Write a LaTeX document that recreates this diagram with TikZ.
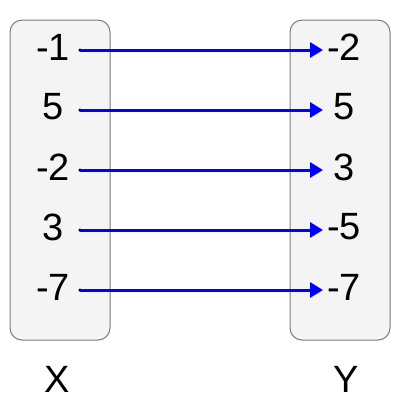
\documentclass[tikz,border=0pt]{standalone}
\usepackage{fontspec}
\setmainfont{Liberation Sans}
\usetikzlibrary{arrows.meta,positioning}

\definecolor{setfill}{HTML}{F4F4F4}
\definecolor{setedge}{HTML}{7A7A7A}

\begin{document}
\begin{tikzpicture}[
    x=1pt,y=-1pt,
    setbox/.style={draw=setedge,fill=setfill,line width=1pt,rounded corners=12pt},
    elem/.style={inner sep=0pt,minimum width=44pt,font=\fontsize{38}{40}\selectfont},
    dot/.style={circle,fill=black,inner sep=0pt,minimum size=3.5pt},
    maps/.style={blue,line width=3pt,-{Triangle[length=13pt,width=15pt]}}
    ]
    \useasboundingbox (0,0) rectangle (400,400);

    \draw[setbox] (10,20) rectangle (110,340);
    \draw[setbox] (290,20) rectangle (390,340);

    \foreach \i/\a/\b in {1/-1/-2,2/5/5,3/-2/3,4/3/-5,5/-7/-7} {
      \node (l\i) [elem] at (53,{60*\i-13}) {\a};
      \node (r\i) [elem] at (344,{60*\i-13}) {\b};
      \node (d\i) [dot] at (80,{60*\i-10}) {};
      \coordinate (t\i) at (323,{60*\i-10});
    }

    \foreach \i in {1,...,5}
      \draw[maps] (d\i.center) to (t\i);

    \node (xs) [elem] at (57,379) {X};
    \node (ys) [elem] at (346,379) {Y};

  \end{tikzpicture}
\end{document}
